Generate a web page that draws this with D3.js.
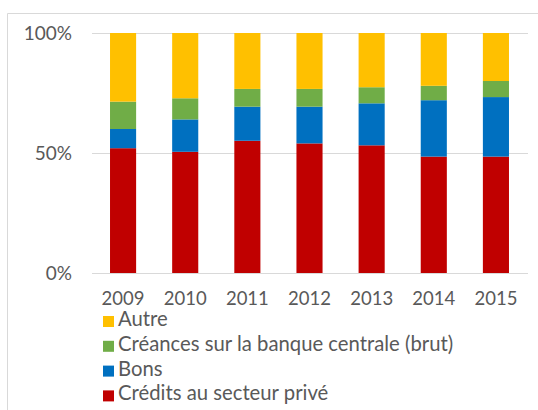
<!DOCTYPE html>
<html>
<head>
<meta charset="utf-8">
<script src="https://cdn.jsdelivr.net/npm/d3@7"></script>
<style>
  html, body { margin: 0; padding: 0; background: #ffffff; }
  svg { display: block; }
  text { font-family: Lato, "Open Sans", sans-serif; fill: #595959; }
</style>
</head>
<body>
<svg id="chart" width="538" height="410"></svg>
<script>
// Years on the category axis
const years = ["2009", "2010", "2011", "2012", "2013", "2014", "2015"];

// Share of each asset type (percent), bottom to top of each stack
const credits = [52.0, 50.5, 55.1, 54.0, 53.2, 48.5, 48.5];
const bons = [8.0, 13.5, 14.2, 15.3, 17.5, 23.5, 24.8];
const creances = [11.4, 8.8, 7.4, 7.4, 6.7, 6.0, 6.7];
const autre = [28.6, 27.2, 23.3, 23.3, 22.6, 22.0, 20.0];

// Series names, bottom-to-top order in the stack
const seriesNames = ["Crédits au secteur privé", "Bons", "Créances sur la banque centrale (brut)", "Autre"];
const seriesColors = ["#C00000", "#0070C0", "#70AD47", "#FFC000"];

// Value axis tick labels
const yTicks = [0, 50, 100];

const svg = d3.select("#chart");

// Chart frame (top and left edges of the chart area)
svg.append("line").attr("x1", 7.5).attr("x2", 538).attr("y1", 13.5).attr("y2", 13.5)
  .attr("stroke", "#d9d9d9").attr("stroke-width", 1);
svg.append("line").attr("x1", 7.5).attr("x2", 7.5).attr("y1", 13.5).attr("y2", 410)
  .attr("stroke", "#d9d9d9").attr("stroke-width", 1);

const plot = { left: 92, right: 527, top: 33, bottom: 273 };

const x = d3.scaleBand().domain(years).range([plot.left, plot.right]).paddingInner(0.58).paddingOuter(0.29);
const y = d3.scaleLinear().domain([0, 100]).range([plot.bottom, plot.top]);

// Gridlines
svg.append("g").selectAll("line").data(yTicks).join("line")
  .attr("x1", plot.left).attr("x2", plot.right + 1)
  .attr("y1", d => Math.round(y(d)) + 0.5).attr("y2", d => Math.round(y(d)) + 0.5)
  .attr("stroke", "#d9d9d9").attr("stroke-width", 1.2);

// Stacked data
const rows = years.map((yr, i) => ({
  year: yr,
  [seriesNames[0]]: credits[i],
  [seriesNames[1]]: bons[i],
  [seriesNames[2]]: creances[i],
  [seriesNames[3]]: autre[i]
}));
const stacked = d3.stack().keys(seriesNames)(rows);

svg.append("g").selectAll("g").data(stacked).join("g")
  .attr("fill", (d, i) => seriesColors[i])
  .selectAll("rect").data(d => d).join("rect")
  .attr("x", d => x(d.data.year))
  .attr("width", x.bandwidth())
  .attr("y", d => y(d[1]))
  .attr("height", d => y(d[0]) - y(d[1]));

// Value axis
const yAxis = d3.axisLeft(y).tickValues(yTicks).tickFormat(d => d + "%").tickSize(0).tickPadding(0);
const gy = svg.append("g").attr("transform", `translate(${plot.left - 20},0)`).call(yAxis);
gy.select(".domain").remove();
gy.selectAll("text").attr("font-size", 19).attr("font-family", "Lato, sans-serif").attr("fill", "#595959");

// Category axis
const xAxis = d3.axisBottom(x).tickSize(0).tickPadding(0);
const gx = svg.append("g").attr("transform", `translate(0,${plot.bottom + 19})`).call(xAxis);
gx.select(".domain").remove();
gx.selectAll("text").attr("font-size", 18.5).attr("font-family", "Lato, sans-serif").attr("fill", "#595959");

// Legend, listed top to bottom in reverse stack order
const legendOrder = [3, 2, 1, 0];
const legend = svg.append("g").attr("transform", "translate(103,316)");
const item = legend.selectAll("g").data(legendOrder).join("g")
  .attr("transform", (d, i) => `translate(0,${i * 24.8})`);
item.append("rect").attr("width", 11).attr("height", 11).attr("fill", d => seriesColors[d]);
item.append("text").attr("x", 15).attr("y", 10)
  .attr("font-size", 20.3)
  .text(d => seriesNames[d]);
</script>
</body>
</html>
